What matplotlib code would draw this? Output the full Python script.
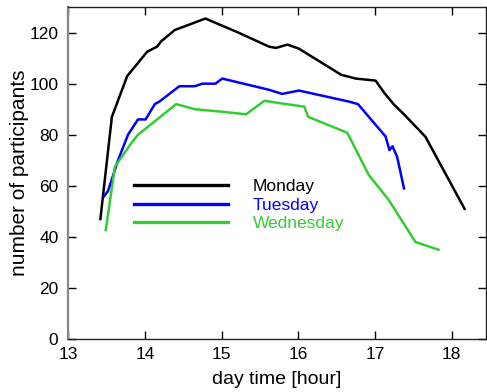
import matplotlib
matplotlib.use("Agg")
import matplotlib.pyplot as plt

plt.rcParams['font.family'] = ['Liberation Sans', 'DejaVu Sans']

mon_x = [13.42, 13.57, 13.77, 14.03, 14.16, 14.21, 14.39, 14.79, 15.22, 15.62, 15.71, 15.86, 16.01,
         16.56, 16.75, 17.01, 17.12, 17.25, 17.38, 17.66, 18.17]
mon_y = [47, 87, 103, 112.5, 114.5, 116.5, 121, 125.5, 120, 114.5, 114, 115.3, 113.7,
         103.5, 102, 101.2, 96.5, 91.8, 88, 79.2, 51]

tue_x = [13.47, 13.52, 13.65, 13.78, 13.91, 14.01, 14.13, 14.19, 14.45, 14.65, 14.75, 14.92, 15.01,
         15.62, 15.79, 16.01, 16.66, 16.78, 17.14, 17.19, 17.23, 17.29, 17.38]
tue_y = [56, 58, 70, 80, 86, 86, 92, 93, 99, 99, 100, 100, 102,
         97.6, 96, 97.3, 93, 92, 79.3, 74, 75.5, 71.4, 59]

wed_x = [13.49, 13.61, 13.83, 13.91, 14.41, 14.65, 15.01, 15.32, 15.56, 15.73, 16.08, 16.13,
         16.64, 16.92, 17.18, 17.53, 17.83]
wed_y = [42.7, 67.5, 77, 80, 92, 90, 89, 88, 93.3, 92.5, 91, 87,
         80.8, 64.3, 54.5, 38, 35]

labels = ['Monday', 'Tuesday', 'Wednesday']
colors = ['#000000', '#0000ff', '#33cc33']
xticks = [13, 14, 15, 16, 17, 18]
yticks = [0, 20, 40, 60, 80, 100, 120]

fig = plt.figure(figsize=(4.87, 3.92), dpi=100)
ax = fig.add_axes([0.140, 0.135, 0.858, 0.847])

lines = []
for xs, ys, c, lab in zip([mon_x, tue_x, wed_x], [mon_y, tue_y, wed_y], colors, labels):
    l, = ax.plot(xs, ys, color=c, lw=1.8, label=lab)
    lines.append(l)

ax.set_xlim(13, 18.45)
ax.set_ylim(0, 130)
ax.set_xticks(xticks)
ax.set_yticks(yticks)
ax.tick_params(direction='in', length=6, top=True, right=True, labelsize=12.5, width=1)
ax.tick_params(axis='x', pad=6)
ax.tick_params(axis='y', pad=7)
for s in ['top', 'right', 'bottom']:
    ax.spines[s].set_linewidth(1)
    ax.spines[s].set_color('#222222')
ax.spines['left'].set_color('#888888')
ax.spines['left'].set_linewidth(1.6)

ax.set_xlabel('day time [hour]', fontsize=14, labelpad=6)
ax.set_ylabel('number of participants', fontsize=15, labelpad=0)

leg = ax.legend(handles=lines, loc='upper left', bbox_to_anchor=(0.1575, 0.482),
                frameon=False, fontsize=12.5, handlelength=5.4, handletextpad=1.44,
                labelspacing=0.19, borderpad=0, borderaxespad=0)
for t, c in zip(leg.get_texts(), colors):
    t.set_color(c)
for h in leg.legend_handles:
    h.set_linewidth(2.4)

fig.savefig('out.png', dpi=100)
